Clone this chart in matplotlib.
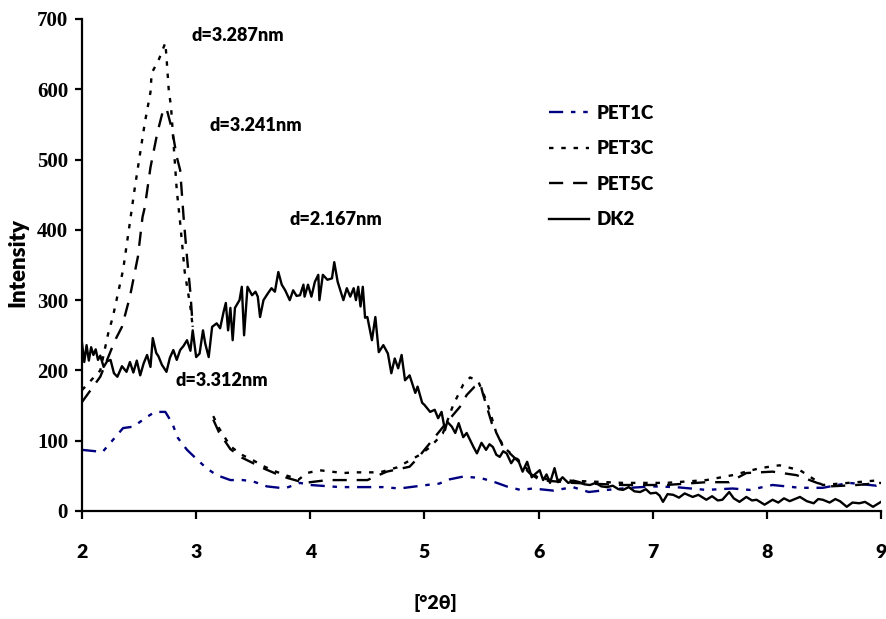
import numpy as np
import matplotlib
matplotlib.use('Agg')
import matplotlib.pyplot as plt

# PET1C (navy, dash-dot-dot)
pet1c_x = [2.0, 2.18, 2.36, 2.45, 2.57, 2.64, 2.73, 2.79, 2.84, 2.92, 3.01, 3.09, 3.18, 3.3, 3.41,
           3.5, 3.62, 3.73, 3.79, 3.91, 4.0, 4.26, 4.64, 4.78, 5.02, 5.13, 5.22, 5.34, 5.49, 5.6,
           5.72, 5.84, 5.95, 6.13, 6.3, 6.44, 6.6, 6.8, 7.0, 7.2, 7.47, 7.7, 7.85, 8.05, 8.29,
           8.49, 8.72, 8.96, 9.0]
pet1c_y = [87, 84, 118, 120, 134, 141, 141, 125, 104, 87, 73, 61, 51, 44, 44,
           42, 35, 33, 33, 40, 37, 34, 34, 32, 37, 39, 45, 49, 47, 42,
           35, 30, 32, 29, 34, 27, 30, 33, 35, 34, 30, 32, 30, 37, 33,
           33, 40, 36, 38]

# PET3C (dotted) - gap between 2.97 and 3.15
pet3c_x = [2.0, 2.16, 2.23, 2.27, 2.36, 2.42, 2.46, 2.55, 2.6, 2.61, 2.67, 2.73, 2.74, 2.76, 2.78,
           2.83, 2.86, 2.9, 2.95, 2.97, 3.05,
           3.15, 3.2, 3.3, 3.4, 3.5, 3.6, 3.7, 3.8, 3.9, 3.97, 4.08, 4.29, 4.39, 4.61, 4.76,
           4.85, 4.96, 5.05, 5.16, 5.25, 5.34, 5.4, 5.47, 5.55, 5.63, 5.7, 5.84, 5.92, 6.01, 6.3,
           6.74, 7.12, 7.47, 7.7, 7.94, 8.11, 8.29, 8.49, 8.79, 9.0]
pet3c_y = [172, 200, 253, 276, 343, 411, 457, 552, 596, 623, 641, 666, 646, 599, 575,
           457, 410, 340, 290, 262, np.nan,
           135, 118, 92, 80, 72, 63, 56, 50, 45, 54, 58, 54, 55, 55, 62,
           70, 80, 91, 110, 150, 180, 190, 185, 154, 111, 90, 70, 56, 46, 43,
           40, 40, 44, 51, 61, 65, 58, 37, 41, 44]

# PET5C (dashed) - gap between 2.97 and 3.15
pet5c_x = [2.0, 2.16, 2.29, 2.35, 2.42, 2.49, 2.53, 2.55, 2.6, 2.66, 2.71, 2.74, 2.79, 2.83, 2.86,
           2.89, 2.92, 2.95, 2.97, 3.05,
           3.15, 3.2, 3.3, 3.4, 3.5, 3.6, 3.7, 3.8, 3.95, 4.15, 4.5, 4.67, 4.87, 4.94, 5.07,
           5.19, 5.31, 5.37, 5.44, 5.49, 5.51, 5.59, 5.69, 5.84, 5.92, 6.01, 6.3, 6.74, 7.12,
           7.47, 7.67, 7.82, 8.05, 8.26, 8.44, 8.55, 8.79, 9.0]
pet5c_y = [155, 191, 243, 262, 305, 362, 418, 432, 489, 538, 570, 573, 542, 504, 485,
           418, 361, 310, 262, np.nan,
           130, 112, 88, 76, 68, 60, 53, 47, 40, 44, 44, 56, 63, 75, 101,
           125, 148, 165, 177, 181, 168, 125, 91, 68, 54, 44, 40, 37, 37,
           41, 41, 54, 56, 51, 40, 35, 37, 40]

# DK2 (solid)
dk2_x = [2.0, 2.02, 2.04, 2.06, 2.08, 2.1, 2.12, 2.14, 2.16, 2.19, 2.22, 2.25, 2.28, 2.31, 2.35,
         2.39, 2.42, 2.45, 2.48, 2.51, 2.54, 2.57, 2.6, 2.62, 2.65, 2.67, 2.7, 2.74, 2.77, 2.8,
         2.83, 2.86, 2.89, 2.92, 2.95, 2.97, 3.0, 3.03, 3.06, 3.08, 3.11, 3.14, 3.18, 3.21,
         3.24, 3.26, 3.28, 3.3, 3.32, 3.34, 3.38, 3.4, 3.42, 3.45, 3.49, 3.52, 3.54, 3.56,
         3.59, 3.63, 3.66, 3.69, 3.72, 3.75, 3.78, 3.82, 3.85, 3.88, 3.91, 3.94, 3.95, 3.98,
         4.01, 4.04, 4.07, 4.08, 4.11, 4.15, 4.19, 4.21, 4.24, 4.29, 4.32, 4.35, 4.38, 4.4,
         4.42, 4.44, 4.46, 4.48, 4.5, 4.54, 4.57, 4.6, 4.64, 4.68, 4.71, 4.74, 4.77, 4.8,
         4.83, 4.87, 4.92, 4.94, 4.98, 5.0, 5.05, 5.09, 5.12, 5.15, 5.18, 5.2, 5.24, 5.27,
         5.3, 5.34, 5.37, 5.4, 5.43, 5.46, 5.5, 5.54, 5.57, 5.6, 5.63, 5.66, 5.69, 5.72, 5.76,
         5.79, 5.82, 5.86, 5.9, 5.94, 5.98, 6.01, 6.04, 6.07, 6.1, 6.14, 6.17, 6.21, 6.26,
         6.31, 6.36, 6.4, 6.45, 6.5, 6.55, 6.6, 6.65, 6.7, 6.74, 6.79, 6.84, 6.89, 6.94, 6.98,
         7.03, 7.06, 7.09, 7.13, 7.18, 7.23, 7.28, 7.35, 7.4, 7.47, 7.52, 7.57, 7.61, 7.67,
         7.71, 7.76, 7.82, 7.87, 7.91, 7.98, 8.05, 8.1, 8.15, 8.2, 8.23, 8.29, 8.35, 8.41,
         8.45, 8.49, 8.55, 8.6, 8.64, 8.7, 8.75, 8.81, 8.86, 8.9, 8.93, 8.97, 9.0]
dk2_y = [239, 212, 236, 214, 233, 222, 230, 215, 221, 205, 213, 215, 196, 191, 206,
         198, 212, 197, 214, 193, 210, 222, 205, 246, 225, 220, 208, 198, 218, 229,
         215, 229, 235, 243, 228, 257, 219, 224, 257, 238, 219, 262, 267, 260,
         283, 296, 257, 289, 243, 289, 300, 319, 250, 319, 307, 312, 305, 276,
         300, 310, 317, 312, 340, 322, 314, 300, 314, 306, 307, 322, 305, 322,
         305, 326, 336, 300, 336, 329, 331, 354, 326, 300, 317, 305, 317, 300,
         319, 291, 319, 275, 276, 243, 276, 226, 236, 224, 196, 217, 203, 222,
         186, 193, 168, 177, 154, 151, 141, 144, 132, 141, 115, 127, 120, 111,
         125, 105, 111, 101, 91, 82, 97, 87, 95, 91, 80, 77, 85, 82, 68,
         75, 73, 56, 70, 48, 54, 58, 44, 52, 40, 61, 41, 48, 40,
         43, 41, 38, 37, 40, 35, 34, 36, 31, 30, 34, 28, 27, 31, 25,
         26, 22, 13, 24, 23, 19, 25, 20, 23, 16, 21, 15, 16, 27,
         18, 13, 20, 15, 16, 9, 16, 12, 18, 14, 16, 20, 14, 11,
         17, 16, 12, 17, 14, 6, 12, 11, 13, 9, 6, 10, 13]

labels = ['PET1C', 'PET3C', 'PET5C', 'DK2']
notes = ['d=3.287nm', 'd=3.241nm', 'd=2.167nm', 'd=3.312nm']
note_pos = [(2.96, 677), (3.12, 549), (3.82, 415), (2.82, 186)]

sans = ['Lato', 'DejaVu Sans']
serif = ['Liberation Serif', 'DejaVu Serif']

W, H = 886, 619
fig = plt.figure(figsize=(W / 100, H / 100), dpi=100)
ax = fig.add_axes([82 / W, 1 - 511 / H, (881 - 82) / W, (511 - 19) / H])

lw = 1.7
ax.plot(pet1c_x, pet1c_y, color='#000080', lw=lw,
        linestyle=(0, (6, 3.3, 1.9, 3.3, 1.9, 3.3)), label=labels[0])
ax.plot(pet3c_x, pet3c_y, color='black', lw=lw, linestyle=(0, (1.9, 3.3)), label=labels[1])
ax.plot(pet5c_x, pet5c_y, color='black', lw=lw, linestyle=(0, (6, 4.2)), label=labels[2])
ax.plot(dk2_x, dk2_y, color='black', lw=1.7, linestyle='-', label=labels[3])

ax.set_xlim(2, 9)
ax.set_ylim(0, 700)
ax.set_xticks(range(2, 10))
ax.set_yticks(range(0, 701, 100))
for s in ['top', 'right']:
    ax.spines[s].set_visible(False)
for s in ['left', 'bottom']:
    ax.spines[s].set_linewidth(1.6)
ax.tick_params(axis='y', direction='out', length=5, width=1.6, pad=5)
ax.tick_params(axis='x', direction='out', length=6, width=1.6, pad=18)
for t in ax.get_yticklabels():
    t.set_fontfamily(serif)
    t.set_fontweight('bold')
    t.set_fontsize(15)
for t in ax.get_xticklabels():
    t.set_fontfamily(sans)
    t.set_fontweight('heavy')
    t.set_fontsize(14)

fig.text(18 / W, 1 - 262 / H, 'Intensity', rotation=90, ha='center', va='center',
         family=sans, fontweight='heavy', fontsize=16)
fig.text(435 / W, 1 - 603 / H, '[°2θ]', ha='center', va='center',
         family=sans, fontweight='heavy', fontsize=14)

for txt, (x, y) in zip(notes, note_pos):
    ax.text(x, y, txt, ha='left', va='center', family=sans, fontweight='heavy', fontsize=13)

leg = ax.legend(loc='upper left', bbox_to_anchor=(549 / W, 1 - 105 / H),
                bbox_transform=fig.transFigure, frameon=False, borderpad=0,
                borderaxespad=0, handlelength=2.15, handletextpad=0.38, labelspacing=0.98,
                prop={'family': sans, 'weight': 'heavy', 'size': 13.5})

fig.savefig('out.png', dpi=100)
